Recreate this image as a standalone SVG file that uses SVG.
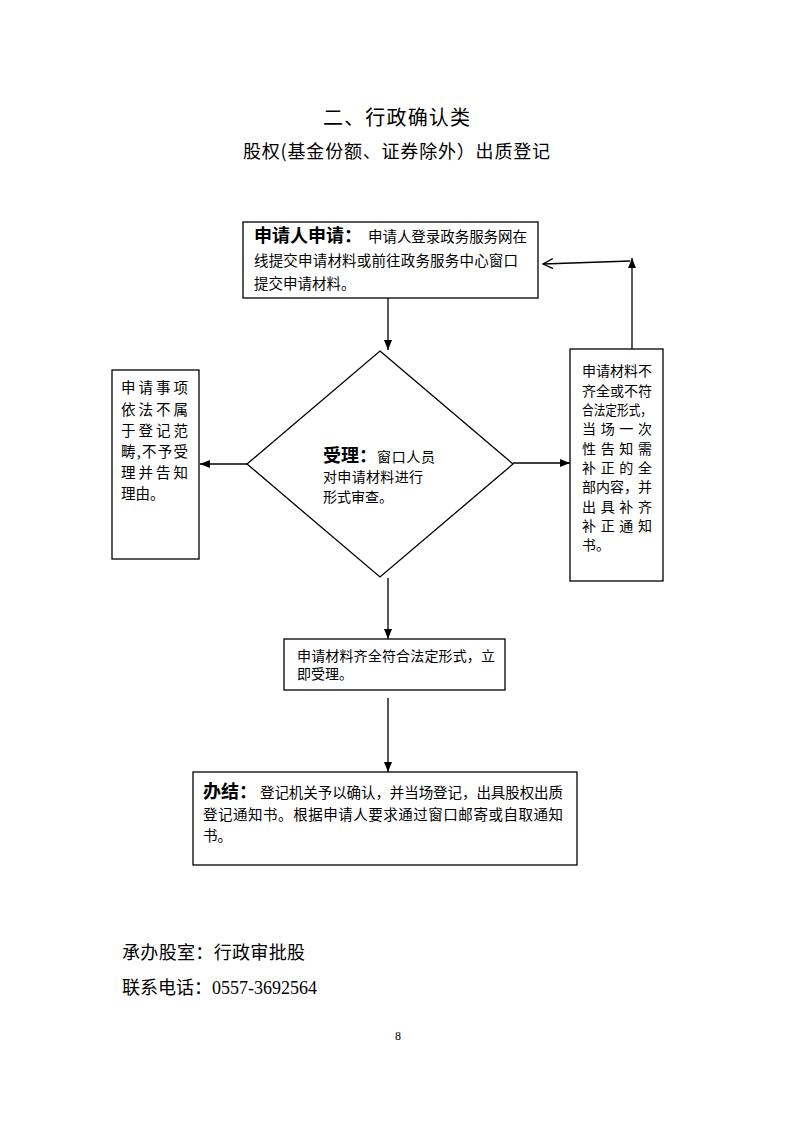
<svg xmlns="http://www.w3.org/2000/svg" width="793" height="1122" viewBox="0 0 793 1122">
<style>
.box{fill:#fff;stroke:#000;stroke-width:1.3}
.ln{fill:none;stroke:#000;stroke-width:1.3}
.t{font-family:"Noto Sans CJK SC","Liberation Sans",sans-serif;font-size:14.5px;fill:#000}
.s{font-size:14px}
.b{font-family:"Noto Sans CJK SC",sans-serif;font-size:18px;font-weight:bold;fill:#000}
.h{font-family:"Noto Sans CJK SC",sans-serif;fill:#000}
.f{font-family:"Liberation Serif","Noto Sans CJK SC",serif;font-size:18px;fill:#000}
</style>
<defs>
<marker id="ah" markerUnits="userSpaceOnUse" markerWidth="12" markerHeight="10" refX="10" refY="4" orient="auto">
<path d="M0,0 L10,4 L0,8 Z" fill="#000"/>
</marker>
<marker id="oh" markerUnits="userSpaceOnUse" markerWidth="12" markerHeight="12" refX="10" refY="5" orient="auto">
<path d="M0,0 L10,5 L0,10" fill="none" stroke="#000" stroke-width="1.3"/>
</marker>
</defs>
<rect width="793" height="1122" fill="#fff"/>
<g id="title">
<text class="h" x="323" y="125" font-size="20" textLength="147" lengthAdjust="spacing">二、行政确认类</text>
<text class="h" x="243" y="158" font-size="18" textLength="307" lengthAdjust="spacing">股权(基金份额、证券除外）出质登记</text>
</g>
<g id="connectors">
<line class="ln" x1="388" y1="298" x2="388" y2="350" marker-end="url(#ah)"/>
<line class="ln" x1="247" y1="464" x2="200" y2="464" marker-end="url(#ah)"/>
<line class="ln" x1="513" y1="463" x2="570" y2="463" marker-end="url(#ah)"/>
<line class="ln" x1="388" y1="578" x2="388" y2="639" marker-end="url(#ah)"/>
<line class="ln" x1="388" y1="698" x2="388" y2="772" marker-end="url(#ah)"/>
<line class="ln" x1="632" y1="349" x2="632" y2="258" marker-end="url(#ah)"/>
<line class="ln" x1="630" y1="261" x2="543" y2="264" marker-end="url(#oh)"/>
</g>
<g id="apply">
<rect class="box" x="243" y="222" width="295" height="76"/>
<text x="254" y="242"><tspan class="b">申请人申请：</tspan><tspan class="t" x="368" textLength="159" lengthAdjust="spacing">申请人登录政务服务网在</tspan></text>
<text class="t" x="254" y="265.5" textLength="264" lengthAdjust="spacing">线提交申请材料或前往政务服务中心窗口</text>
<text class="t" x="254" y="288.5">提交申请材料。</text>
</g>
<g id="accept">
<polygon class="box" points="380,351 513,464 380,577 247,464"/>
<text x="323" y="461.5"><tspan class="b">受理：</tspan><tspan class="t s" x="377" textLength="58" lengthAdjust="spacing">窗口人员</tspan></text>
<text class="t s" x="323" y="482" textLength="100" lengthAdjust="spacing">对申请材料进行</text>
<text class="t s" x="323" y="502">形式审查。</text>
</g>
<g id="reject">
<rect class="box" x="112" y="370" width="87" height="189"/>
<text class="t" x="121" y="393" textLength="67" lengthAdjust="spacing">申请事项</text>
<text class="t" x="121" y="414.5" textLength="67" lengthAdjust="spacing">依法不属</text>
<text class="t" x="121" y="435.5" textLength="67" lengthAdjust="spacing">于登记范</text>
<text class="t" x="121" y="456.5" textLength="67" lengthAdjust="spacing">畴,不予受</text>
<text class="t" x="121" y="477.5" textLength="67" lengthAdjust="spacing">理并告知</text>
<text class="t" x="121" y="498.5">理由。</text>
</g>
<g id="supplement">
<rect class="box" x="570" y="349" width="93" height="232"/>
<text class="t s" x="582" y="376" textLength="70" lengthAdjust="spacing">申请材料不</text>
<text class="t s" x="582" y="395.5" textLength="70" lengthAdjust="spacing">齐全或不符</text>
<text class="t s" x="582" y="415" textLength="70" lengthAdjust="spacingAndGlyphs">合法定形式，</text>
<text class="t s" x="582" y="434" textLength="70" lengthAdjust="spacing">当场一次</text>
<text class="t s" x="582" y="453.5" textLength="70" lengthAdjust="spacing">性告知需</text>
<text class="t s" x="582" y="473" textLength="70" lengthAdjust="spacing">补正的全</text>
<text class="t s" x="582" y="492" textLength="70" lengthAdjust="spacing">部内容，并</text>
<text class="t s" x="582" y="512" textLength="70" lengthAdjust="spacing">出具补齐</text>
<text class="t s" x="582" y="530.5" textLength="70" lengthAdjust="spacing">补正通知</text>
<text class="t s" x="582" y="550">书。</text>
</g>
<g id="accepted">
<rect class="box" x="284" y="639" width="221" height="51"/>
<text class="t s" x="297" y="660.5" textLength="198" lengthAdjust="spacing">申请材料齐全符合法定形式，立</text>
<text class="t s" x="297" y="679">即受理。</text>
</g>
<g id="finish">
<rect class="box" x="193" y="772" width="384" height="93"/>
<text x="203" y="798"><tspan class="b">办结：</tspan><tspan class="t" x="260" textLength="303" lengthAdjust="spacing">登记机关予以确认，并当场登记，出具股权出质</tspan></text>
<text class="t" x="203" y="820" textLength="360" lengthAdjust="spacing">登记通知书。根据申请人要求通过窗口邮寄或自取通知</text>
<text class="t" x="203" y="841">书。</text>
</g>
<g id="footer">
<text class="f" x="122" y="959" textLength="183" lengthAdjust="spacing">承办股室：行政审批股</text>
<text class="f" x="122" y="994">联系电话：0557-3692564</text>
<text x="395" y="1040" font-family="Liberation Serif,serif" font-size="12">8</text>
</g>
</svg>
